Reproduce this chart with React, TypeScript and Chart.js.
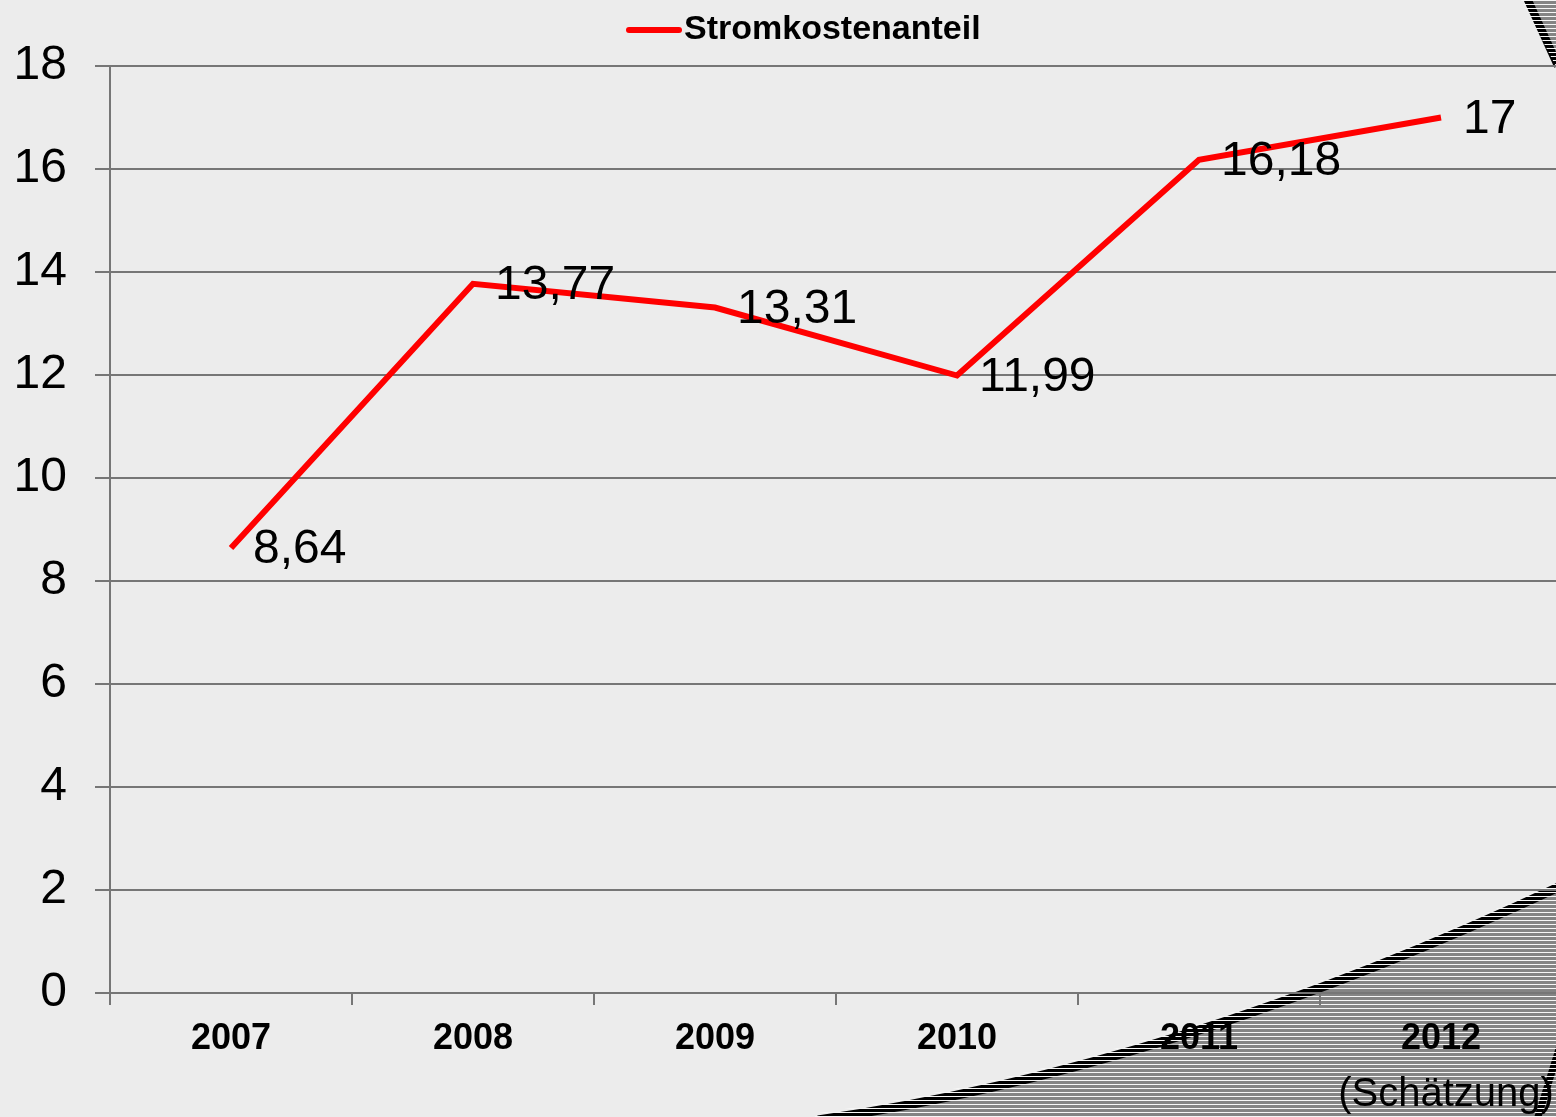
import React, { useEffect, useRef } from "react";
import { Chart, registerables } from "chart.js";

Chart.register(...registerables);

const categories = ["2007", "2008", "2009", "2010", "2011", "2012"];
const stromkostenanteil = [8.64, 13.77, 13.31, 11.99, 16.18, 17];
const seriesLabel = "Stromkostenanteil";
const estimateNote = "(Schätzung)";
const yMin = 0;
const yMax = 18;
const yStep = 2;

const FONT = "Arial, 'Liberation Sans', sans-serif";
const BG = "#ececec";
const RED = "#ff0000";

const decoPlugin = {
  id: "deco",
  beforeDraw(chart: any) {
    const ctx = chart.ctx;
    ctx.save();
    ctx.fillStyle = BG;
    ctx.fillRect(0, 0, chart.width, chart.height);
    // bottom-right hatched band
    const curve = (c: CanvasRenderingContext2D, dy: number) => {
      c.moveTo(818, 1120 + dy);
      c.bezierCurveTo(1010, 1092 + dy, 1260, 1028 + dy, 1565, 884 + dy);
    };
    ctx.beginPath();
    curve(ctx, 0);
    ctx.lineTo(1565, 1120);
    ctx.lineTo(818, 1120);
    ctx.closePath();
    ctx.fillStyle = "#848484";
    ctx.fill();
    ctx.strokeStyle = "#000";
    ctx.lineWidth = 9;
    ctx.beginPath();
    curve(ctx, 0);
    ctx.stroke();
    ctx.beginPath();
    ctx.moveTo(1568, 1020);
    ctx.lineTo(1537, 1120);
    ctx.lineWidth = 7;
    ctx.stroke();
    // top-right hatched corner
    ctx.beginPath();
    ctx.moveTo(1527, -2);
    ctx.lineTo(1560, 70);
    ctx.lineTo(1570, 70);
    ctx.lineTo(1570, -2);
    ctx.closePath();
    ctx.fillStyle = "#848484";
    ctx.fill();
    ctx.beginPath();
    ctx.moveTo(1527, -2);
    ctx.lineTo(1558, 66);
    ctx.lineWidth = 8;
    ctx.stroke();
    // white stripes
    ctx.beginPath();
    curve(ctx, -7);
    ctx.lineTo(1565, 1120);
    ctx.lineTo(812, 1120);
    ctx.closePath();
    ctx.moveTo(1520, -2);
    ctx.lineTo(1560, 74);
    ctx.lineTo(1570, 74);
    ctx.lineTo(1570, -2);
    ctx.closePath();
    ctx.clip();
    ctx.fillStyle = "#f6f6f6";
    for (let y = 0; y < 1120; y += 4) {
      ctx.fillRect(800, y, 770, 1);
    }
    ctx.restore();
  },
  afterDraw(chart: any) {
    const ctx = chart.ctx;
    const xs = chart.scales.x;
    ctx.save();
    ctx.fillStyle = "#000";
    ctx.font = `40px ${FONT}`;
    ctx.textAlign = "center";
    ctx.textBaseline = "middle";
    ctx.fillText(estimateNote, xs.getPixelForValue(categories.length - 1) + 5, 1095);
    // legend
    const ds = chart.data.datasets[0];
    ctx.strokeStyle = ds.borderColor;
    ctx.lineWidth = 6;
    ctx.lineCap = "round";
    ctx.beginPath();
    ctx.moveTo(629, 30);
    ctx.lineTo(679, 30);
    ctx.stroke();
    ctx.font = `bold 34px ${FONT}`;
    ctx.textAlign = "left";
    ctx.fillText(ds.label, 684, 30);
    ctx.restore();
  },
};

const labelPlugin = {
  id: "valueLabels",
  afterDatasetsDraw(chart: any) {
    const ctx = chart.ctx;
    const meta = chart.getDatasetMeta(0);
    ctx.save();
    ctx.fillStyle = "#000";
    ctx.font = `48px ${FONT}`;
    ctx.textAlign = "left";
    ctx.textBaseline = "middle";
    meta.data.forEach((pt: any, i: number) => {
      const txt = String(stromkostenanteil[i]).replace(".", ",");
      ctx.fillText(txt, pt.x + 22, pt.y + 2);
    });
    ctx.restore();
  },
};

export default function App() {
  const ref = useRef<HTMLCanvasElement>(null);
  useEffect(() => {
    if (!ref.current) return;
    const chart = new Chart(ref.current, {
      type: "line",
      data: {
        labels: categories,
        datasets: [
          {
            label: seriesLabel,
            data: stromkostenanteil,
            borderColor: RED,
            backgroundColor: RED,
            borderWidth: 6,
            pointRadius: 0,
            tension: 0,
          },
        ],
      },
      options: {
        animation: false,
        responsive: false,
        devicePixelRatio: 1,
        layout: { padding: { top: 66, left: 0, right: 0, bottom: 0 } },
        plugins: {
          legend: { display: false },
          tooltip: { enabled: false },
        },
        scales: {
          x: {
            type: "category",
            offset: true,
            grid: {
              offset: true,
              drawOnChartArea: false,
              drawTicks: true,
              tickLength: 12,
              color: "#767676",
              lineWidth: 2,
            },
            border: { display: true, color: "#767676", width: 2 },
            ticks: {
              color: "#000",
              font: { family: FONT, size: 36, weight: "bold" },
              padding: 12,
              maxRotation: 0,
              autoSkip: false,
            },
            afterFit(scale: any) {
              scale.height = 124;
            },
          },
          y: {
            min: yMin,
            max: yMax,
            ticks: {
              stepSize: yStep,
              color: "#000",
              font: { family: FONT, size: 48 },
              padding: 28,
            },
            grid: {
              color: "#767676",
              lineWidth: 2,
              tickLength: 15,
            },
            border: { display: true, color: "#767676", width: 2 },
            afterFit(scale: any) {
              scale.width = 110;
            },
          },
        },
      },
      plugins: [decoPlugin, labelPlugin],
    });
    return () => chart.destroy();
  }, []);
  return (
    <div
      style={{
        position: "fixed",
        left: 0,
        top: 0,
        width: 1556,
        height: 1117,
        overflow: "hidden",
        background: BG,
      }}
    >
      <canvas ref={ref} width={1562} height={1117} style={{ display: "block" }} />
    </div>
  );
}
